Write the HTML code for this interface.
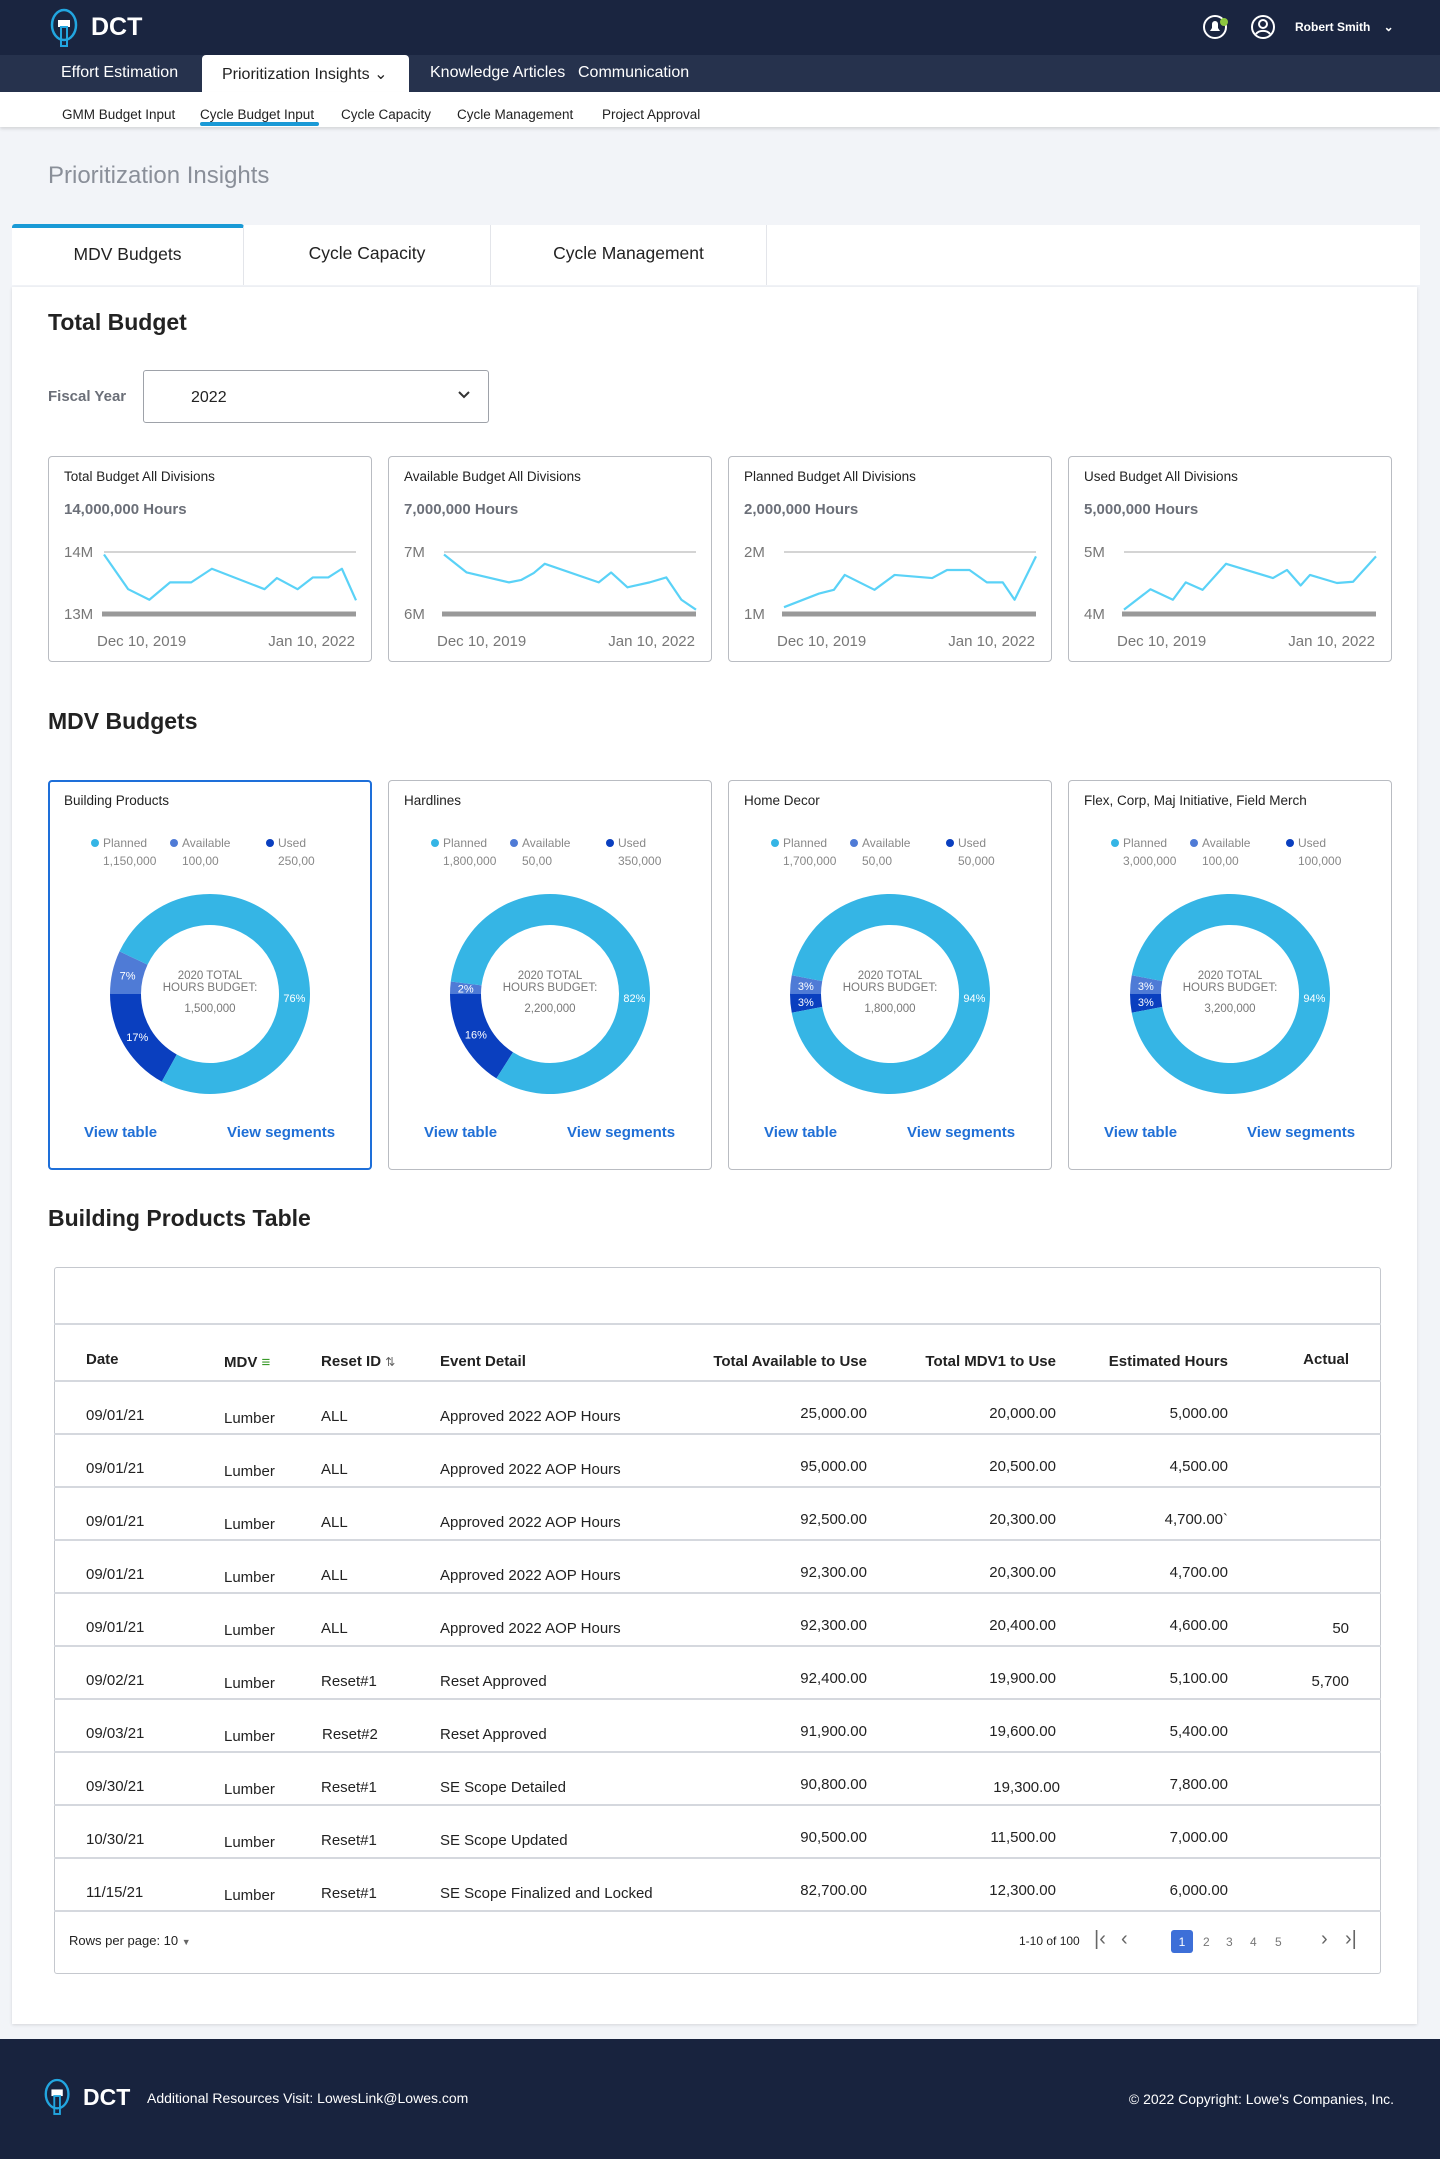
<!DOCTYPE html>
<html><head><meta charset="utf-8"><style>
*{box-sizing:border-box;margin:0;padding:0}
body{width:1440px;height:2159px;position:relative;background:#f2f4f8;font-family:"Liberation Sans",sans-serif;overflow:hidden;color:#222}
.a{position:absolute;white-space:nowrap}
.card{position:absolute;background:#fff;border:1px solid #b9bcc2;border-radius:4px}
.th{position:absolute;font-weight:bold;font-size:15px;color:#222;top:1351px}
.td{position:absolute;font-size:15px;color:#222}
.rl{position:absolute;left:54px;width:1327px;height:2px;background:#d5d8de}
.lnk{position:absolute;font-size:15px;font-weight:bold;color:#1f6fd6;top:343px}
</style></head><body>
<div class="a" style="left:0;top:0;width:1440px;height:55px;background:#1a2540"></div>
<svg class="a" style="left:48px;top:8px" width="36" height="40" viewBox="0 0 36 40"><ellipse cx="16" cy="17" rx="12" ry="15" fill="none" stroke="#22a6e0" stroke-width="2.5"/><rect x="10" y="12" width="12" height="7" fill="#fff"/><rect x="13" y="19" width="6" height="19" fill="none" stroke="#22a6e0" stroke-width="2"/></svg>
<div class="a" style="left:91px;top:13px;font-size:25px;font-weight:bold;color:#fff">DCT</div>
<svg class="a" style="left:1203px;top:14px" width="26" height="26"><circle cx="12" cy="13" r="11" fill="none" stroke="#fff" stroke-width="2"/><path d="M7 17h10l-2-3v-4a3 3 0 0 0-6 0v4z" fill="#fff"/><circle cx="21" cy="8" r="4" fill="#8cc63f"/></svg>
<svg class="a" style="left:1250px;top:14px" width="26" height="26"><circle cx="13" cy="13" r="11" fill="none" stroke="#fff" stroke-width="2"/><circle cx="13" cy="10" r="4" fill="none" stroke="#fff" stroke-width="2"/><path d="M6 20a8 6 0 0 1 14 0" fill="none" stroke="#fff" stroke-width="2"/></svg>
<div class="a" style="left:1295px;top:20px;font-size:12px;font-weight:bold;color:#fff">Robert Smith &nbsp;&nbsp;&nbsp;⌄</div>

<div class="a" style="left:0;top:55px;width:1440px;height:37px;background:#26324d"></div>
<div class="a" style="left:61px;top:64px;font-size:16px;color:#fff">Effort Estimation</div>
<div class="a" style="left:202px;top:55px;width:207px;height:37px;background:#fff;border-radius:4px 4px 0 0;font-size:16px;color:#222;padding:9px 0 0 20px">Prioritization Insights ⌄</div>
<div class="a" style="left:430px;top:64px;font-size:16px;color:#fff">Knowledge Articles</div>
<div class="a" style="left:578px;top:64px;font-size:16px;color:#fff">Communication</div>

<div class="a" style="left:0;top:92px;width:1440px;height:35px;background:#fff;box-shadow:0 2px 3px rgba(0,0,0,.12)"></div>
<div class="a" style="left:62px;top:107px;font-size:13.5px">GMM Budget Input</div>
<div class="a" style="left:200px;top:107px;font-size:13.5px">Cycle Budget Input</div>
<div class="a" style="left:200px;top:122px;width:119px;height:4px;background:#1a9ad6;border-radius:2px"></div>
<div class="a" style="left:341px;top:107px;font-size:13.5px">Cycle Capacity</div>
<div class="a" style="left:457px;top:107px;font-size:13.5px">Cycle Management</div>
<div class="a" style="left:602px;top:107px;font-size:13.5px">Project Approval</div>

<div class="a" style="left:48px;top:162px;font-size:24px;color:#8a8f99">Prioritization Insights</div>

<div class="a" style="left:12px;top:225px;width:1408px;height:60px;background:#fff"></div>
<div class="a" style="left:12px;top:224px;width:232px;height:61px;border-top:4px solid #1a9ad6;border-radius:3px 3px 0 0;border-right:1px solid #e3e5ea;text-align:center;font-size:17.5px;padding-top:16px">MDV Budgets</div>
<div class="a" style="left:244px;top:225px;width:247px;height:60px;border-right:1px solid #e3e5ea;text-align:center;font-size:17.5px;padding-top:18px">Cycle Capacity</div>
<div class="a" style="left:491px;top:225px;width:276px;height:60px;border-right:1px solid #e3e5ea;text-align:center;font-size:17.5px;padding-top:18px">Cycle Management</div>

<div class="a" style="left:12px;top:287px;width:1405px;height:1737px;background:#fff;box-shadow:0 1px 3px rgba(0,0,0,.12)"></div>
<div class="a" style="left:48px;top:309px;font-size:23px;font-weight:bold">Total Budget</div>
<div class="a" style="left:48px;top:388px;font-size:15px;font-weight:bold;color:#6b6f78">Fiscal Year</div>
<div class="a" style="left:143px;top:370px;width:346px;height:53px;border:1px solid #9ea2a9;border-radius:3px;font-size:16px;padding:18px 0 0 47px">2022<svg style="position:absolute;left:313px;top:19px" width="14" height="10"><path d="M2 2l5 5 5-5" fill="none" stroke="#333" stroke-width="2"/></svg></div>

<div id="sparks"></div>

<div class="a" style="left:48px;top:708px;font-size:23px;font-weight:bold">MDV Budgets</div>
<div id="donuts"></div>

<div class="a" style="left:48px;top:1205px;font-size:23px;font-weight:bold">Building Products Table</div>
<div class="a" style="left:54px;top:1267px;width:1327px;height:707px;border:1px solid #c5c8ce;border-radius:3px;background:#fff"></div>
<div class="rl" style="top:1323px"></div>
<div class="th" style="left:86px">Date</div>
<div class="th" style="left:224px;top:1354px">MDV <span style="color:#3a9a2a">≡</span></div>
<div class="th" style="left:321px;top:1353px">Reset ID <span style="font-weight:normal;font-size:12px;color:#666">⇅</span></div>
<div class="th" style="left:440px;top:1353px">Event Detail</div>
<div class="th" style="right:573px;top:1353px">Total Available to Use</div>
<div class="th" style="right:384px;top:1353px">Total MDV1 to Use</div>
<div class="th" style="right:212px;top:1353px">Estimated Hours</div>
<div class="th" style="right:91px">Actual</div>
<div class="rl" style="top:1380px"></div>
<div id="rows"></div>
<div class="a" style="left:69px;top:1933px;font-size:13px">Rows per page: 10 <span style="font-size:9px;color:#666">▼</span></div>
<div class="a" style="left:1019px;top:1934px;font-size:12px">1-10 of 100</div>
<div class="a" style="left:1094px;top:1928px;font-size:20px;color:#666">|‹</div>
<div class="a" style="left:1121px;top:1928px;font-size:20px;color:#666">‹</div>
<div class="a" style="left:1171px;top:1930px;width:22px;height:23px;background:#3d6fd8;border-radius:3px;color:#fff;font-size:12px;text-align:center;padding-top:5px">1</div>
<div class="a" style="left:1203px;top:1935px;font-size:12px;color:#777">2</div>
<div class="a" style="left:1226px;top:1935px;font-size:12px;color:#777">3</div>
<div class="a" style="left:1250px;top:1935px;font-size:12px;color:#777">4</div>
<div class="a" style="left:1275px;top:1935px;font-size:12px;color:#777">5</div>
<div class="a" style="left:1321px;top:1928px;font-size:20px;color:#666">›</div>
<div class="a" style="left:1345px;top:1928px;font-size:20px;color:#666">›|</div>

<div class="a" style="left:0;top:2039px;width:1440px;height:120px;background:#18233e"></div>
<svg class="a" style="left:42px;top:2077px" width="34" height="40" viewBox="0 0 36 40"><ellipse cx="16" cy="17" rx="12" ry="15" fill="none" stroke="#22a6e0" stroke-width="2.5"/><rect x="10" y="12" width="12" height="7" fill="#fff"/><rect x="13" y="19" width="6" height="19" fill="none" stroke="#22a6e0" stroke-width="2"/></svg>
<div class="a" style="left:83px;top:2084px;font-size:23px;font-weight:bold;color:#fff">DCT</div>
<div class="a" style="left:147px;top:2090px;font-size:14px;color:#fff">Additional Resources Visit: LowesLink@Lowes.com</div>
<div class="a" style="right:46px;top:2091px;font-size:14px;color:#fff">© 2022 Copyright: Lowe's Companies, Inc.</div>

<script>
// Sparkline data (time fraction, value in millions)
const sparkTitles = ["Total Budget All Divisions","Available Budget All Divisions","Planned Budget All Divisions","Used Budget All Divisions"];
const sparkTotals = ["14,000,000 Hours","7,000,000 Hours","2,000,000 Hours","5,000,000 Hours"];
const sparkMin = [13,6,1,4];
const sparkMax = [14,7,2,5];
const sparkT1 = [0,0.096,0.18,0.262,0.346,0.428,0.637,0.686,0.768,0.829,0.89,0.944,1];
const sparkV1 = [13.96,13.40,13.23,13.51,13.51,13.73,13.40,13.58,13.40,13.59,13.59,13.73,13.22];
const sparkT2 = [0,0.09,0.258,0.307,0.356,0.4,0.614,0.663,0.728,0.816,0.882,0.942,1];
const sparkV2 = [6.96,6.67,6.51,6.55,6.66,6.81,6.51,6.67,6.43,6.51,6.59,6.23,6.07];
const sparkT3 = [0,0.139,0.198,0.241,0.359,0.439,0.588,0.647,0.736,0.805,0.868,0.915,1];
const sparkV3 = [1.11,1.33,1.39,1.63,1.39,1.63,1.58,1.71,1.71,1.51,1.51,1.23,1.93];
const sparkT4 = [0,0.105,0.194,0.245,0.312,0.405,0.591,0.647,0.701,0.738,0.845,0.909,1];
const sparkV4 = [4.07,4.40,4.23,4.51,4.39,4.81,4.58,4.71,4.46,4.63,4.50,4.52,4.93];
const sparkDates = ["Dec 10, 2019","Jan 10, 2022"];

// Donut data
const donutTitles = ["Building Products","Hardlines","Home Decor","Flex, Corp, Maj Initiative, Field Merch"];
const donutPlanned = [76,82,94,94];
const donutAvailable = [7,2,3,3];
const donutUsed = [17,16,3,3];
const legendPlanned = ["1,150,000","1,800,000","1,700,000","3,000,000"];
const legendAvailable = ["100,00","50,00","50,00","100,00"];
const legendUsed = ["250,00","350,000","50,000","100,000"];
const donutTotals = ["1,500,000","2,200,000","1,800,000","3,200,000"];

// Table data
const rowDates = ["09/01/21","09/01/21","09/01/21","09/01/21","09/01/21","09/02/21","09/03/21","09/30/21","10/30/21","11/15/21"];
const rowMdv = ["Lumber","Lumber","Lumber","Lumber","Lumber","Lumber","Lumber","Lumber","Lumber","Lumber"];
const rowReset = ["ALL","ALL","ALL","ALL","ALL","Reset#1","Reset#2","Reset#1","Reset#1","Reset#1"];
const rowEvent = ["Approved 2022 AOP Hours","Approved 2022 AOP Hours","Approved 2022 AOP Hours","Approved 2022 AOP Hours","Approved 2022 AOP Hours","Reset Approved","Reset Approved","SE Scope Detailed","SE Scope Updated","SE Scope Finalized and Locked"];
const rowAvail = ["25,000.00","95,000.00","92,500.00","92,300.00","92,300.00","92,400.00","91,900.00","90,800.00","90,500.00","82,700.00"];
const rowMdv1 = ["20,000.00","20,500.00","20,300.00","20,300.00","20,400.00","19,900.00","19,600.00","19,300.00","11,500.00","12,300.00"];
const rowEst = ["5,000.00","4,500.00","4,700.00`","4,700.00","4,600.00","5,100.00","5,400.00","7,800.00","7,000.00","6,000.00"];
const rowActual = ["","","","","50","5,700","","","",""];

const NS="http://www.w3.org/2000/svg";
function mk(tag,attrs,parent){const e=document.createElementNS(NS,tag);for(const k in attrs)e.setAttribute(k,attrs[k]);if(parent)parent.appendChild(e);return e;}

const cardX=[48,388,728,1068];
const sparkTs=[sparkT1,sparkT2,sparkT3,sparkT4];
const sparkVs=[sparkV1,sparkV2,sparkV3,sparkV4];
const sp=document.getElementById('sparks');
for(let i=0;i<4;i++){
  const c=document.createElement('div');
  c.className='card';
  
  
  c.style.cssText=`left:${cardX[i]}px;top:456px;width:324px;height:206px`;
  c.innerHTML=`<div class="a" style="left:15px;top:12px;font-size:13.5px">${sparkTitles[i]}</div><div class="a" style="left:15px;top:44px;font-size:15px;font-weight:bold;color:#6b6f78">${sparkTotals[i]}</div>`;
  const s=mk('svg',{width:324,height:206,style:'position:absolute;left:0;top:0'});
  
  
  const x0=55,x1=307,yT=95,yB=157;
  const xs=t=>x0+t*(x1-x0);
  const ys=v=>yB-(v-sparkMin[i])/(sparkMax[i]-sparkMin[i])*(yB-yT);
  mk('line',{x1:x0,x2:x1,y1:yT,y2:yT,stroke:'#aaa','stroke-width':1},s);
  mk('line',{x1:x0-2,x2:x1,y1:yB,y2:yB,stroke:'#999','stroke-width':5},s);
  const lt=mk('text',{x:15,y:yT+5,'font-size':15,fill:'#777','font-family':'Liberation Sans'},s);lt.textContent=sparkMax[i]+'M';
  const lb=mk('text',{x:15,y:yB+5,'font-size':15,fill:'#777','font-family':'Liberation Sans'},s);lb.textContent=sparkMin[i]+'M';
  const pts=sparkTs[i].map((t,j)=>xs(t)+','+ys(sparkVs[i][j])).join(' ');
  const pl=mk('polyline',{points:pts,fill:'none',stroke:'#5ad2f7','stroke-width':2.2,'stroke-linejoin':'round'},s);
  
  
  const d1=mk('text',{x:48,y:189,'font-size':15,fill:'#777','font-family':'Liberation Sans'},s);d1.textContent=sparkDates[0];
  const d2=mk('text',{x:306,y:189,'font-size':15,fill:'#777','text-anchor':'end','font-family':'Liberation Sans'},s);d2.textContent=sparkDates[1];
  c.appendChild(s);sp.appendChild(c);
}

const colors={p:'#35b5e5',a:'#4f7bd6',u:'#0a3fbf'};
const dn=document.getElementById('donuts');
for(let i=0;i<4;i++){
  const c=document.createElement('div');
  c.className='card';
  
  
  c.style.cssText=`left:${cardX[i]}px;top:780px;width:324px;height:390px`+(i===0?';border:2px solid #1e6fd9':'');
  const off=i===0?-1:0;
  c.innerHTML=`<div class="a" style="left:${15+off}px;top:${12+off}px;font-size:13.5px">${donutTitles[i]}</div>`+
   [['Planned',legendPlanned[i],colors.p,42],['Available',legendAvailable[i],colors.a,121],['Used',legendUsed[i],colors.u,217]].map(l=>
   `<div class="a" style="left:${l[3]+off}px;top:${55+off}px;font-size:12px;color:#888"><span style="display:inline-block;width:8px;height:8px;border-radius:50%;background:${l[2]};margin-right:4px"></span>${l[0]}</div><div class="a" style="left:${l[3]+12+off}px;top:${73+off}px;font-size:12px;color:#888">${l[1]}</div>`).join('')+
   `<div class="lnk" style="left:${35+off}px;top:${343+off}px">View table</div><div class="lnk" style="left:${178+off}px;top:${343+off}px">View segments</div>`;
  const s=mk('svg',{width:324,height:330,style:`position:absolute;left:${off}px;top:${off}px`});
  
  
  const cx=161,cy=213,R=100,r=69;
  const segs=[[donutUsed[i],colors.u,'used'],[donutAvailable[i],colors.a,'available'],[donutPlanned[i],colors.p,'planned']];
  const tot=donutUsed[i]+donutAvailable[i]+donutPlanned[i];
  // used/available boundary sits at 9 o'clock; angle measured clockwise from bottom
  const start=Math.PI/2-donutUsed[i]/tot*2*Math.PI;
  let acc=0;
  const pt=(ang,rad)=>[cx-Math.sin(ang)*rad,cy+Math.cos(ang)*rad];
  segs.forEach(sg=>{
    const a0=start+acc/tot*2*Math.PI;acc+=sg[0];const a1=start+acc/tot*2*Math.PI;
    const lg=(a1-a0)>Math.PI?1:0;
    const [x0,y0]=pt(a0,R),[x1,y1]=pt(a1,R),[x2,y2]=pt(a1,r),[x3,y3]=pt(a0,r);
    const p=mk('path',{d:`M${x0},${y0}A${R},${R} 0 ${lg} 1 ${x1},${y1}L${x2},${y2}A${r},${r} 0 ${lg} 0 ${x3},${y3}Z`,fill:sg[1]},s);
    
    
    let am=(a0+a1)/2;
    if(sg[2]==='planned') am=3*Math.PI/2+0.05;
    const [lx,ly]=pt(am,(R+r)/2);
    const t=mk('text',{x:lx,y:ly+4,'font-size':11,fill:'#fff','text-anchor':'middle','font-family':'Liberation Sans'},s);
    t.textContent=sg[0]+'%';
  });
  [['2020 TOTAL',198],['HOURS BUDGET:',210],[donutTotals[i],231]].forEach(l=>{
    const t=mk('text',{x:cx,y:l[1],'font-size':11.5,fill:'#777','text-anchor':'middle','font-family':'Liberation Sans'},s);t.textContent=l[0];
  });
  c.appendChild(s);dn.appendChild(c);
}

const rw=document.getElementById('rows');
for(let i=0;i<10;i++){
  const top=1381+i*53;
  const base=top+35;
  const cells=[[rowDates[i],'left:86px',base],[rowMdv[i],'left:224px',base+3],[rowReset[i],'left:'+(i===6?322:321)+'px',base+1],[rowEvent[i],'left:440px',base+1],[rowAvail[i],'right:573px',base-2],[rowMdv1[i],'right:'+(i===7?380:384)+'px',base-2+(i===7?3:0)],[rowEst[i],'right:212px',base-2],[rowActual[i],'right:91px',base+1]];
  const names=['cell-date','cell-mdv','cell-reset-id','cell-event-detail','cell-total-available','cell-total-mdv1','cell-estimated-hours','cell-actual'];
  cells.forEach((cl,k)=>{
    const d=document.createElement('div');
    d.className='td';
    
    
    d.style.cssText=cl[1]+';top:'+(cl[2]-9)+'px';
    d.textContent=cl[0];
    rw.appendChild(d);
  });
  const l=document.createElement('div');
  l.className='rl';
  
  
  l.style.top=(top+52)+'px';
  rw.appendChild(l);
}
</script>
</body></html>
